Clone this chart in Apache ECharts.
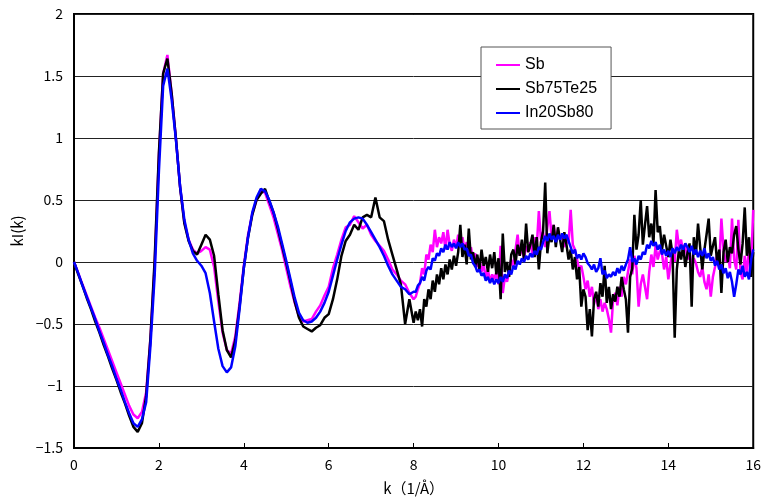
<!DOCTYPE html>
<html>
<head>
<meta charset="utf-8">
<script src="https://cdn.jsdelivr.net/npm/echarts@6/dist/echarts.min.js"></script>
<style>
html,body{margin:0;padding:0;background:#fff;}
#chart{width:764px;height:502px;}
</style>
</head>
<body>
<div id="chart"></div>
<script>
// Sampling grid: segment A 0..8 step 0.1, segment B 8.05..16 step 0.05
const kStartA = 0, kStepA = 0.1, kCountA = 81;
const kStartB = 8, kStepB = 0.05, kCountB = 160;

const seriesNames = ['Sb', 'Sb75Te25', 'In20Sb80'];
const xTicks = [0, 2, 4, 6, 8, 10, 12, 14, 16];
const yTicks = [-1.5, -1, -0.5, 0, 0.5, 1, 1.5, 2];

// Sb (magenta)
const sbA = [
 0, -0.09, -0.18, -0.27, -0.36, -0.45, -0.53, -0.62, -0.71, -0.80,
 -0.89, -0.98, -1.07, -1.16, -1.23, -1.26, -1.21, -1.05, -0.62, -0.02,
 0.86, 1.52, 1.67, 1.36, 1.00, 0.60, 0.32, 0.18, 0.10, 0.07,
 0.09, 0.12, 0.10, -0.04, -0.32, -0.57, -0.71, -0.74, -0.60, -0.33,
 -0.03, 0.22, 0.39, 0.50, 0.57, 0.56, 0.46, 0.36, 0.23, 0.10,
 -0.05, -0.20, -0.33, -0.44, -0.48, -0.47, -0.46, -0.40, -0.35, -0.27,
 -0.20, -0.05, 0.06, 0.18, 0.28, 0.30, 0.37, 0.32, 0.27, 0.30,
 0.22, 0.17, 0.13, 0.09, 0.02, -0.06, -0.10, -0.15, -0.18, -0.25,
 -0.30
];
const sbB = [
 -0.28, -0.22, -0.17, -0.05, -0.10, 0.06, 0.02, 0.14, 0.08, 0.26, 0.12, 0.20, 0.15, 0.24, 0.10, 0.26, 0.14, 0.09, 0.18, 0.12,
 0.22, 0.15, 0.20, 0.10, 0.16, 0.05, 0.12, 0.02, 0.07, -0.04, 0.03, -0.08, -0.02, -0.13, -0.06, -0.16, -0.10, -0.14, -0.08, -0.18,
 0.13, -0.25, -0.12, -0.16, -0.08, 0.02, -0.04, 0.10, 0.22, 0.05, 0.12, 0.03, 0.13, 0.08, 0.16, 0.06, 0.20, 0.12, 0.41, 0.18,
 0.24, 0.12, 0.28, 0.41, 0.20, 0.30, 0.16, 0.26, 0.18, 0.22, 0.12, 0.20, 0.15, 0.42, 0.14, 0.10, 0.02, -0.06, -0.03, -0.12,
 -0.22, -0.15, -0.28, -0.20, -0.34, -0.26, -0.38, -0.30, -0.40, -0.33, -0.38, -0.46, -0.57, -0.30, -0.25, -0.35, -0.20, -0.28, -0.12, -0.18,
 -0.08, 0.02, -0.10, 0.05, -0.05, -0.36, -0.18, -0.10, -0.20, -0.30, -0.08, 0.06, -0.04, 0.13, 0.02, 0.09, 0.07, -0.06, 0.04, -0.14,
 -0.02, 0.10, 0.00, 0.26, 0.12, 0.18, 0.08, 0.15, 0.02, 0.07, -0.03, 0.03, -0.01, -0.08, -0.12, -0.04, -0.16, -0.22, -0.10, -0.28,
 -0.12, -0.04, 0.06, -0.02, 0.35, 0.10, 0.00, 0.07, -0.05, 0.35, 0.02, -0.06, 0.34, -0.08, -0.14, 0.05, -0.10, 0.12, -0.02, 0.42
];

// Sb75Te25 (black)
const sbteA = [
 0, -0.10, -0.19, -0.29, -0.38, -0.48, -0.57, -0.67, -0.76, -0.86,
 -0.95, -1.05, -1.14, -1.24, -1.33, -1.37, -1.30, -1.08, -0.62, 0.02,
 0.88, 1.52, 1.64, 1.36, 1.00, 0.60, 0.31, 0.17, 0.09, 0.06,
 0.14, 0.22, 0.18, 0.05, -0.26, -0.55, -0.71, -0.77, -0.63, -0.36,
 -0.05, 0.20, 0.38, 0.50, 0.55, 0.59, 0.49, 0.40, 0.27, 0.13,
 -0.01, -0.16, -0.32, -0.45, -0.52, -0.54, -0.56, -0.53, -0.51, -0.45,
 -0.42, -0.30, -0.14, 0.05, 0.17, 0.22, 0.30, 0.26, 0.36, 0.38,
 0.36, 0.52, 0.36, 0.33, 0.18, 0.06, -0.06, -0.18, -0.50, -0.30,
 -0.49
];
const sbteB = [
 -0.40, -0.47, -0.38, -0.52, -0.30, -0.36, -0.22, -0.30, -0.15, -0.24, -0.10, -0.18, -0.05, -0.14, -0.02, -0.10, 0.02, -0.06, 0.05, -0.03,
 0.08, 0.30, 0.04, 0.14, -0.02, 0.27, 0.02, 0.08, -0.04, 0.06, -0.06, 0.10, -0.03, 0.04, -0.08, 0.06, -0.05, 0.08, -0.10, 0.03,
 -0.30, 0.23, -0.08, 0.00, -0.12, 0.06, 0.10, -0.02, 0.14, 0.05, 0.18, 0.02, 0.31, 0.08, 0.14, 0.22, 0.04, 0.20, -0.06, 0.16,
 0.25, 0.64, 0.07, 0.22, 0.16, 0.30, 0.12, 0.28, 0.18, 0.08, 0.24, 0.14, 0.02, 0.10, -0.06, 0.04, -0.14, -0.04, -0.36, -0.22,
 -0.28, -0.55, -0.38, -0.60, -0.30, -0.24, -0.36, -0.17, -0.28, -0.03, -0.33, -0.20, -0.38, -0.26, -0.32, -0.20, -0.28, -0.12, -0.22, -0.30,
 -0.57, -0.12, -0.05, 0.38, 0.10, 0.22, 0.50, 0.14, 0.30, 0.45, 0.20, 0.31, 0.15, 0.58, 0.24, 0.29, 0.10, 0.22, 0.13, 0.04,
 0.18, 0.06, -0.61, -0.06, 0.10, 0.02, 0.13, -0.04, 0.07, 0.15, -0.36, 0.20, 0.06, 0.31, 0.12, -0.06, 0.10, 0.22, 0.35, 0.05,
 0.13, 0.20, -0.01, 0.10, -0.25, 0.08, 0.18, 0.00, 0.12, 0.07, 0.22, 0.29, 0.10, -0.02, 0.15, 0.44, 0.05, 0.20, -0.12, 0.08
];

// In20Sb80 (blue)
const insbA = [
 0, -0.09, -0.19, -0.28, -0.37, -0.46, -0.56, -0.65, -0.75, -0.84,
 -0.94, -1.03, -1.13, -1.22, -1.30, -1.33, -1.27, -1.13, -0.68, -0.11,
 0.73, 1.42, 1.56, 1.31, 0.99, 0.61, 0.34, 0.18, 0.07, 0.01,
 -0.03, -0.09, -0.25, -0.48, -0.70, -0.84, -0.89, -0.85, -0.68, -0.38,
 -0.05, 0.20, 0.40, 0.52, 0.59, 0.57, 0.50, 0.40, 0.29, 0.15,
 0.01, -0.14, -0.29, -0.41, -0.47, -0.49, -0.48, -0.45, -0.40, -0.33,
 -0.24, -0.11, 0.02, 0.14, 0.25, 0.32, 0.35, 0.36, 0.35, 0.30,
 0.24, 0.18, 0.12, 0.05, -0.03, -0.10, -0.15, -0.20, -0.22, -0.26,
 -0.24
];
const insbB = [
 -0.24, -0.19, -0.17, -0.12, -0.15, -0.07, -0.04, -0.06, 0.03, 0.01, 0.07, 0.05, 0.11, 0.08, 0.14, 0.10, 0.16, 0.12, 0.15, 0.11,
 0.16, 0.12, 0.15, 0.10, 0.11, 0.05, 0.06, -0.01, -0.03, -0.08, -0.06, -0.11, -0.09, -0.15, -0.12, -0.17, -0.13, -0.18, -0.14, -0.17,
 -0.12, -0.16, -0.10, -0.13, -0.07, -0.10, -0.03, -0.06, 0.01, -0.02, 0.03, 0.00, 0.05, 0.02, 0.07, 0.04, 0.09, 0.06, 0.12, 0.10,
 0.16, 0.21, 0.17, 0.23, 0.18, 0.21, 0.16, 0.22, 0.18, 0.23, 0.19, 0.22, 0.17, 0.12, 0.07, 0.10, 0.03, 0.06, 0.02, 0.07,
 0.04, -0.01, -0.03, -0.06, -0.02, -0.08, -0.05, 0.03, -0.10, -0.07, -0.13, -0.10, -0.12, -0.08, -0.11, -0.05, -0.09, -0.03, -0.07, -0.02,
 0.02, 0.12, 0.00, 0.03, -0.02, 0.05, 0.02, 0.08, 0.06, 0.14, 0.11, 0.17, 0.13, 0.16, 0.10, 0.14, 0.06, 0.10, 0.05, 0.09,
 0.04, 0.11, 0.07, 0.12, 0.09, 0.14, 0.10, 0.15, 0.12, 0.08, 0.13, 0.06, 0.10, 0.04, 0.09, 0.05, 0.11, 0.03, 0.07, 0.01,
 0.04, -0.03, 0.01, -0.06, -0.02, -0.09, -0.05, -0.13, -0.08, -0.16, -0.28, -0.18, -0.06, -0.10, -0.03, -0.12, -0.08, -0.14, 0.02, 0.10
];

const kA = [];
for (let i = 0; i < kCountA; i++) kA.push(+(kStartA + i * kStepA).toFixed(2));
const kB = [];
for (let i = 1; i <= kCountB; i++) kB.push(+(kStartB + i * kStepB).toFixed(2));

function pairs(a, b) {
  return kA.map((k, i) => [k, a[i]]).concat(kB.map((k, i) => [k, b[i]]));
}

const FONT = '"Noto Sans CJK JP", "Liberation Sans", sans-serif';
const colors = ['#ff00ff', '#000000', '#0000ff'];
const dataSets = [pairs(sbA, sbB), pairs(sbteA, sbteB), pairs(insbA, insbB)];

const chart = echarts.init(document.getElementById('chart'), null, {renderer: 'canvas'});
chart.setOption({
  animation: false,
  backgroundColor: '#ffffff',
  grid: {left: 74, top: 14, right: 10, bottom: 54, show: true, borderColor: '#000', borderWidth: 2, backgroundColor: '#fff'},
  legend: {
    orient: 'vertical',
    left: 481, top: 47,
    padding: [10, 14, 8, 15],
    itemGap: 8,
    itemWidth: 24, itemHeight: 2,
    icon: 'rect',
    backgroundColor: '#fff',
    borderColor: '#555', borderWidth: 1,
    textStyle: {fontFamily: '"Liberation Sans", Arial, sans-serif', fontSize: 16, lineHeight: 16, color: '#000'},
    data: seriesNames
  },
  xAxis: {
    type: 'value', min: xTicks[0], max: xTicks[xTicks.length - 1], interval: 2,
    name: 'k（1/Å）', nameLocation: 'middle', nameGap: 33,
    nameTextStyle: {fontFamily: FONT, fontSize: 15, color: '#000'},
    axisLine: {onZero: false, lineStyle: {color: '#000', width: 2}},
    axisTick: {inside: true, length: 5, lineStyle: {color: '#000', width: 1}},
    axisLabel: {fontFamily: FONT, fontSize: 14, color: '#000', margin: 10},
    splitLine: {show: false}
  },
  yAxis: {
    type: 'value', min: yTicks[0], max: yTicks[yTicks.length - 1], interval: 0.5,
    name: 'kI(k)', nameLocation: 'middle', nameGap: 48,
    nameTextStyle: {fontFamily: FONT, fontSize: 15, color: '#000'},
    axisLine: {onZero: false, lineStyle: {color: '#000', width: 2}},
    axisTick: {show: false},
    axisLabel: {fontFamily: FONT, fontSize: 14, color: '#000', margin: 11,
      formatter: v => String(v).replace('-', '−')},
    splitLine: {lineStyle: {color: '#222', width: 1}}
  },
  series: seriesNames.map((n, i) => ({
    name: n, type: 'line', data: dataSets[i], symbol: 'none', showSymbol: false,
    lineStyle: {color: colors[i], width: 2.5}, itemStyle: {color: colors[i]},
    z: 2 + i
  }))
});
</script>
</body>
</html>
